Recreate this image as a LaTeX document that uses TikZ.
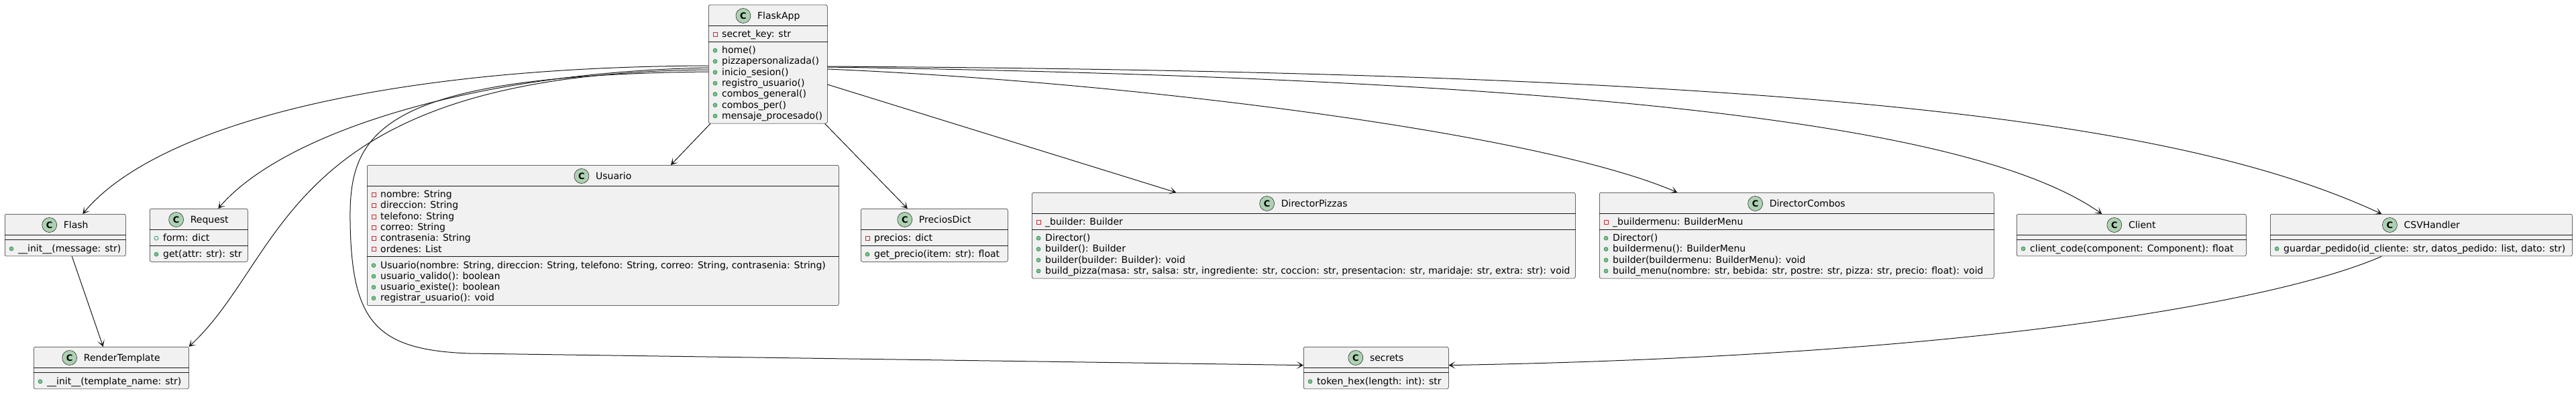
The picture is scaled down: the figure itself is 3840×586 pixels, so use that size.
\documentclass[tikz,border=0pt]{standalone}
\usepackage{fontspec}
\setmainfont{DejaVu Sans}
\usetikzlibrary{calc,arrows.meta}

\definecolor{boxfill}{HTML}{F1F1F1}
\definecolor{boxline}{HTML}{181818}
\definecolor{iconfill}{HTML}{ADD1B2}
\definecolor{pubfill}{HTML}{84BE84}
\definecolor{publine}{HTML}{038048}
\definecolor{privline}{HTML}{C82930}

\tikzset{
  classbox/.style={draw=boxline, fill=boxfill, line width=0.5pt, rounded corners=2.5pt, inner sep=0pt, anchor=north west},
  sepline/.style={draw=boxline, line width=0.5pt},
  classname/.style={font=\fontsize{14}{16}\selectfont, inner sep=0pt, anchor=base},
  classicon/.style={circle, draw=boxline, fill=iconfill, line width=0.5pt, minimum size=22pt, inner sep=0pt, font=\fontsize{13}{13}\selectfont\bfseries},
  member/.style={font=\fontsize{14}{16}\selectfont, inner sep=0pt, anchor=base west},
  pubm/.style={circle, draw=publine, fill=pubfill, line width=0.5pt, minimum size=6pt, inner sep=0pt},
  pubf/.style={circle, draw=publine, line width=0.6pt, minimum size=6pt, inner sep=0pt},
  privf/.style={rectangle, draw=privline, line width=0.6pt, minimum size=6pt, inner sep=0pt},
  dep/.style={draw=boxline, line width=1pt, -{Stealth[length=10pt, width=11pt, inset=6pt]}},
}

% name, left, top, width, attribute rows, method rows, title
\newcommand{\umlclass}[7]{%
  \pgfmathsetmacro{\clsA}{31}
  \pgfmathsetmacro{\clsB}{31+7.7+16.3*#5}
  \pgfmathsetmacro{\clsH}{\clsB+7.7+16.3*#6}
  \node[classbox, minimum width=#4, minimum height=\clsH] (#1) at (#2,#3) {};
  \draw[sepline] ($(#1.north west)+(0,\clsA)$) coordinate (#1-s1) -- ($(#1.north east)+(0,\clsA)$);
  \draw[sepline] ($(#1.north west)+(0,\clsB)$) coordinate (#1-s2) -- ($(#1.north east)+(0,\clsB)$);
  \node[classname] (#1-name) at ($(#1.north)+(16,21.5)$) {#7};
  \node[classicon] (#1-icon) at ($(#1-name.base west)+(-21,-5)$) {C};
}
% section coordinate, list of kind/text
\newcommand{\members}[2]{%
  \foreach \mkind/\mtext [count=\mrow] in {#2} {
    \node[\mkind] (#1-\mrow-v) at ($(#1)+(10,13.2+16.3*\mrow-16.3)$) {};
    \node[member] (#1-\mrow) at ($(#1)+(20,17.5+16.3*\mrow-16.3)$) {\mtext};
  }
}

\begin{document}
\begin{tikzpicture}[x=1pt, y=-1pt]
\path[use as bounding box, fill=white] (0,0) rectangle (3840,586);

\umlclass{flaskapp}{1056}{7}{177}{1}{7}{FlaskApp}
\members{flaskapp-s1}{privf/secret\_key: str}
\members{flaskapp-s2}{pubm/home(), pubm/pizzapersonalizada(), pubm/inicio\_sesion(), pubm/registro\_usuario(), pubm/combos\_general(), pubm/combos\_per(), pubm/mensaje\_procesado()}

\umlclass{flash}{7}{319}{180}{0}{1}{Flash}
\members{flash-s2}{pubm/\_\_init\_\_(message: str)}

\umlclass{request}{223}{311}{146}{1}{1}{Request}
\members{request-s1}{pubf/form: dict}
\members{request-s2}{pubm/get(attr: str): str}

\umlclass{rendertemplate}{50}{517}{231}{0}{1}{RenderTemplate}
\members{rendertemplate-s2}{pubm/\_\_init\_\_(template\_name: str)}

\umlclass{usuario}{547}{246}{703}{6}{4}{Usuario}
\members{usuario-s1}{privf/nombre: String, privf/direccion: String, privf/telefono: String, privf/correo: String, privf/contrasenia: String, privf/ordenes: List}
\members{usuario-s2}{pubm/{Usuario(nombre: String, direccion: String, telefono: String, correo: String, contrasenia: String)}, pubm/usuario\_valido(): boolean, pubm/usuario\_existe(): boolean, pubm/registrar\_usuario(): void}

\umlclass{preciosdict}{1283}{311}{219}{1}{1}{PreciosDict}
\members{preciosdict-s1}{privf/precios: dict}
\members{preciosdict-s2}{pubm/get\_precio(item: str): float}

\umlclass{dirpizzas}{1538}{287}{810}{1}{4}{DirectorPizzas}
\members{dirpizzas-s1}{privf/\_builder: Builder}
\members{dirpizzas-s2}{pubm/Director(), pubm/builder(): Builder, pubm/builder(builder: Builder): void, pubm/{build\_pizza(masa: str, salsa: str, ingrediente: str, coccion: str, presentacion: str, maridaje: str, extra: str): void}}

\umlclass{dircombos}{2384}{287}{588}{1}{4}{DirectorCombos}
\members{dircombos-s1}{privf/\_buildermenu: BuilderMenu}
\members{dircombos-s2}{pubm/Director(), pubm/buildermenu(): BuilderMenu, pubm/builder(buildermenu: BuilderMenu): void, pubm/{build\_menu(nombre: str, bebida: str, postre: str, pizza: str, precio: float): void}}

\umlclass{client}{3006}{319}{342}{0}{1}{Client}
\members{client-s2}{pubm/client\_code(component: Component): float}

\umlclass{csvhandler}{3384}{319}{450}{0}{1}{CSVHandler}
\members{csvhandler-s2}{pubm/{guardar\_pedido(id\_cliente: str, datos\_pedido: list, dato: str)}}

\umlclass{secrets}{1943}{517}{216}{0}{1}{secrets}
\members{secrets-s2}{pubm/token\_hex(length: int): str}

% left side
\draw[dep] ($(flaskapp.north west)+(0,91)$) .. controls (560,100) and (230,190) .. ($(flash.north)+(26,0)$);
\draw[dep] ($(flaskapp.north west)+(0,94)$) .. controls (700,108) and (420,200) .. ($(request.north)+(29,0)$);
\draw[dep] ($(flaskapp.north west)+(0,97)$) .. controls (420,110) and (430,380) .. (rendertemplate.north east);
\draw[dep] ($(flaskapp.north west)+(0,100)$) .. controls (560,112) and (520,200) .. (522,330)
  .. controls (524,480) and (560,522) .. (700,527) -- ($(secrets.west)+(0,-4)$);
\draw[dep] ($(flash.south)+(10,0)$) -- ($(rendertemplate.north)+(-12,0)$);
% below
\draw[dep] ($(flaskapp.south west)+(3,0)$) -- ($(usuario.north west)+(453,0)$);
\draw[dep] ($(flaskapp.south east)+(-4,0)$) -- ($(preciosdict.north)+(-40,0)$);
% right side
\draw[dep] ($(flaskapp.north east)+(0,119)$) -- ($(dirpizzas.north)+(-190,0)$);
\draw[dep] ($(flaskapp.north east)+(0,96)$) .. controls (1700,123) and (2300,200) .. ($(dircombos.north)+(-178,0)$);
\draw[dep] ($(flaskapp.north east)+(0,93)$) .. controls (2400,118) and (2950,190) .. ($(client.north)+(-44,0)$);
\draw[dep] ($(flaskapp.north east)+(0,92)$) .. controls (2700,108) and (3250,180) .. ($(csvhandler.north)+(-59,0)$);
\draw[dep] ($(csvhandler.south)+(-59,0)$) .. controls (3420,440) and (3000,530) .. ($(secrets.east)+(0,-4)$);
\end{tikzpicture}
\end{document}
